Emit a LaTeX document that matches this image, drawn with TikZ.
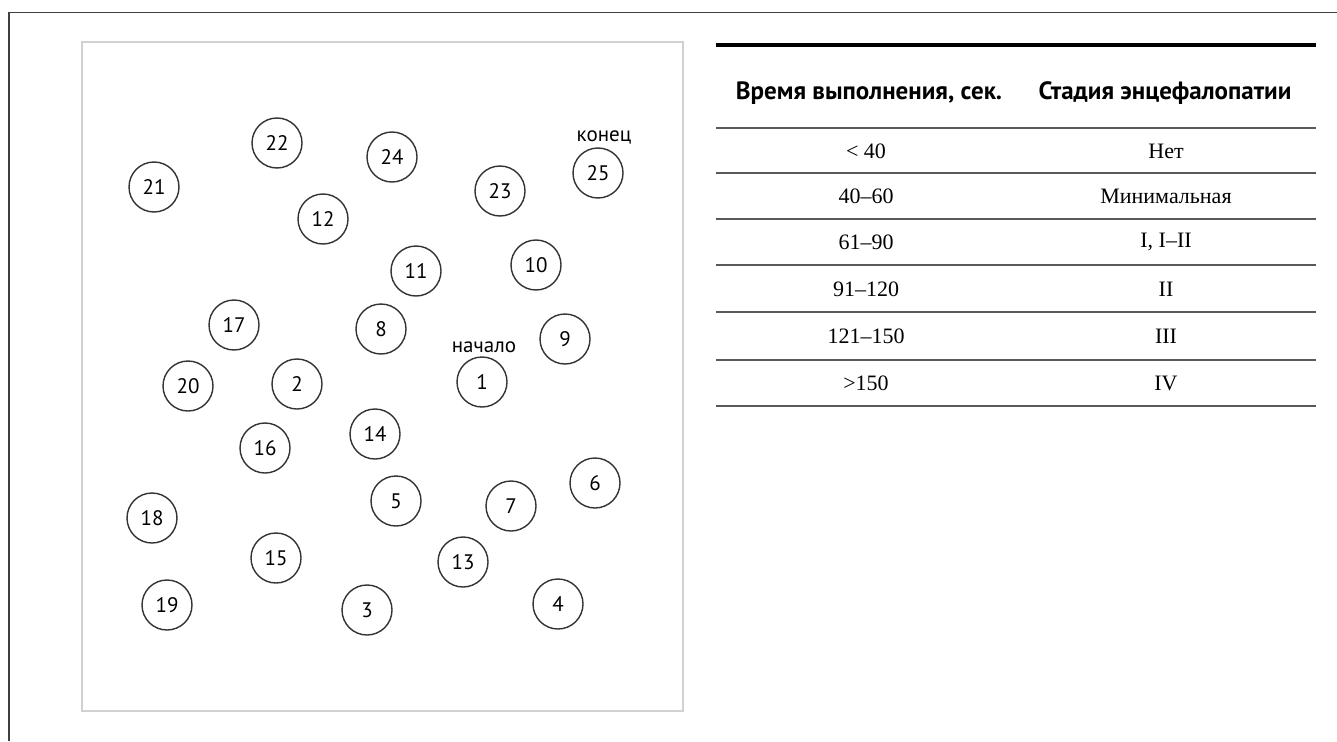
\documentclass[tikz,border=0pt]{standalone}
\usepackage{fontspec}
\setmainfont{Liberation Serif}
\newfontfamily\labelfont{PT Sans}
\begin{document}
\begin{tikzpicture}[x=1pt,y=-1pt,
  num/.style={circle, draw=black!80, line width=1.4pt, minimum size=50pt,
    inner sep=0pt, font=\labelfont\fontsize{21}{21}\selectfont},
  tag/.style={inner sep=0pt, font=\labelfont\fontsize{21}{21}\selectfont},
  head/.style={inner sep=0pt, font=\labelfont\bfseries\fontsize{25}{25}\selectfont},
  cell/.style={inner sep=0pt, font=\fontsize{22}{22}\selectfont},
  rowrule/.style={draw=black!65, line width=1.8pt},
  toprule/.style={draw=black, line width=4pt}]
\useasboundingbox (0,0) rectangle (1337,741);

% page frame (open to the right and below)
\draw[black!75, line width=1.5pt] (9,741) -- (9,12.5) -- (1337,12.5);

% test sheet
\draw[black!18, line width=1.6pt] (82,42) rectangle (683,711);

% numbered targets
\foreach \n/\px/\py in {1/482/382, 2/297/384, 3/367/610, 4/558/604, 5/396/501,
    6/595/483, 7/511/506, 8/381/329, 9/565/339, 10/536/265, 11/416/271,
    12/323/219, 13/463/562, 14/375/434, 15/276/558, 16/265/448, 17/234/325,
    18/152/518, 19/167/605, 20/188/386, 21/154/187, 22/277/143, 23/500/191,
    24/392/157, 25/598/173}
  \node[num] (c\n) at (\px,\py) {\n};

\node[tag] (start) at (484,347) {начало};
\node[tag] (finish) at (604,137) {конец};

% scoring table
\draw[toprule] (716,45) -- (1316,45);
\node[head] (h1) at (869,93) {Время выполнения, сек.};
\node[head] (h2) at (1165,93) {Стадия энцефалопатии};
\foreach \ry in {128,173,219,265,312,360,406}
  \draw[rowrule] (716,\ry) -- (1316,\ry);

\foreach \i/\ry/\ta/\tb in {1/151/{< 40}/{Нет}, 2/196/{40–60}/{Минимальная},
    3/242/{61–90}/{I, I–II}, 4/289/{91–120}/{II}, 5/336/{121–150}/{III},
    6/383/{>150}/{IV}}
{
  \node[cell] (t\i a) at (866,\ry) {\ta};
  \node[cell] (t\i b) at (1166,\ry) {\tb};
}
\end{tikzpicture}
\end{document}
